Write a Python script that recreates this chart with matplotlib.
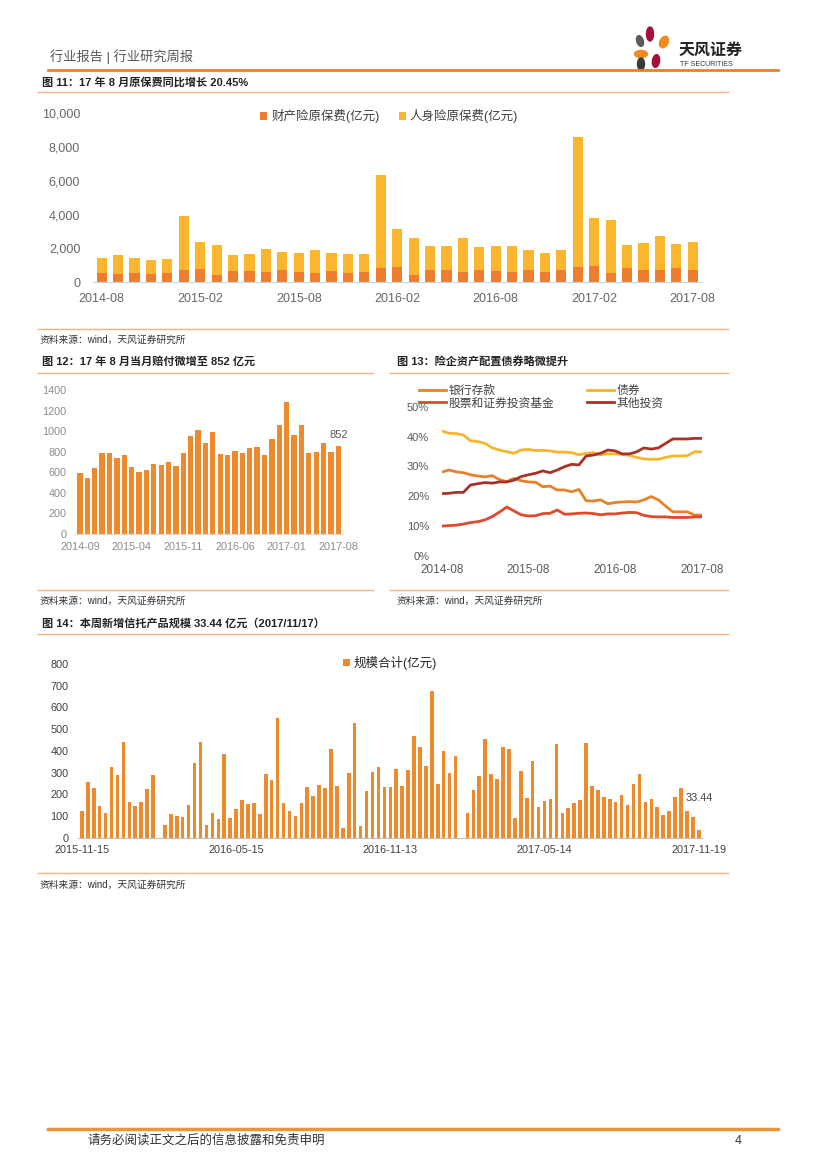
import matplotlib
matplotlib.use('Agg')
import matplotlib.pyplot as plt
from matplotlib.lines import Line2D
from matplotlib.patches import Ellipse
import numpy as np
import pandas as pd

plt.rcParams['font.family'] = ['Liberation Sans', 'Noto Sans CJK SC', 'DejaVu Sans']
plt.rcParams['axes.unicode_minus'] = False

# ---- data ----
# 图11 原保费 (亿元), 2014-08 .. 2017-08
prem_months = pd.date_range('2014-08-01', periods=37, freq='MS').strftime('%Y-%m').tolist()
prop_prem = [552, 513, 572, 513, 572, 730, 809, 434, 671, 671, 611, 730, 611, 552, 671, 552, 611, 848,
             907, 434, 730, 710, 611, 730, 671, 611, 710, 611, 730, 907, 966, 552, 848, 730, 730, 848, 730]
life_prem = [908, 1104, 868, 828, 789, 3215, 1558, 1775, 927, 1005, 1342, 1045, 1105, 1361, 1065, 1105,
             1065, 5483, 2229, 2209, 1400, 1420, 1993, 1380, 1499, 1519, 1223, 1125, 1183, 7673, 2821,
             3117, 1361, 1578, 2012, 1400, 1676]
prem_yticks = [0, 2000, 4000, 6000, 8000, 10000]
prem_ylabels = ['0', '2,000', '4,000', '6,000', '8,000', '10,000']

# 图12 当月赔付 (亿元), 2014-09 .. 2017-08
claim_months = pd.date_range('2014-09-01', periods=36, freq='MS').strftime('%Y-%m').tolist()
claims = [591, 539, 637, 786, 789, 737, 767, 646, 601, 620, 679, 666, 695, 659, 786, 948, 1010, 880,
          987, 780, 770, 805, 789, 838, 845, 770, 919, 1056, 1280, 958, 1059, 783, 799, 880, 793, 852]

# 图13 资产配置占比 (%), 2014-08 .. 2017-08
alloc_months = pd.date_range('2014-08-01', periods=37, freq='MS').strftime('%Y-%m').tolist()
bank_dep = [28.1, 28.8, 28.2, 27.9, 27.2, 26.8, 26.5, 26.9, 25.6, 24.9, 26.0, 25.2, 24.8, 24.7, 23.2,
            23.4, 22.1, 22.1, 21.5, 22.3, 18.5, 18.4, 18.8, 17.5, 17.9, 18.1, 18.2, 18.1, 18.8, 19.9,
            18.8, 16.7, 14.8, 14.8, 14.8, 13.7, 13.7]
bonds = [41.9, 41.1, 41.0, 40.5, 38.6, 38.3, 37.7, 36.2, 35.5, 34.9, 34.4, 35.5, 35.7, 35.3, 35.4,
         35.2, 34.8, 34.8, 34.6, 33.9, 34.4, 34.6, 33.9, 34.2, 34.2, 34.0, 33.7, 33.0, 32.5, 32.4,
         32.4, 33.0, 33.5, 33.5, 33.6, 34.9, 34.9]
stocks = [10.0, 10.2, 10.3, 10.7, 11.2, 11.5, 12.1, 13.2, 14.7, 16.4, 15.1, 13.8, 13.4, 13.5, 14.2,
          14.3, 15.4, 14.0, 14.1, 14.3, 14.4, 14.2, 13.8, 14.1, 14.1, 14.4, 14.6, 14.5, 13.6, 13.2,
          13.1, 13.1, 12.9, 12.9, 12.9, 13.1, 13.1]
others = [20.9, 21.0, 21.3, 21.3, 23.8, 24.2, 24.6, 24.4, 24.8, 24.8, 25.4, 26.6, 27.2, 27.7, 28.5,
          27.9, 28.8, 29.9, 30.7, 30.5, 33.5, 33.8, 34.4, 35.5, 35.2, 34.2, 34.2, 34.9, 36.2, 35.8,
          36.2, 37.7, 39.2, 39.2, 39.2, 39.4, 39.4]

# 图14 新增信托产品规模 (亿元), weekly
trust_labels = {0: '2015-11-15', 26: '2016-05-15', 52: '2016-11-13', 78: '2017-05-14', 104: '2017-11-19'}
trust = [122, 255, 227, 146, 114, 326, 287, 441, 166, 146, 166, 226, 290,
         0,
         57, 110, 101, 95, 149, 345, 443, 57, 115, 84, 387,
         92, 131, 172, 157, 158, 108, 292, 267, 550, 158, 124, 101, 161, 234, 191, 241, 229, 410,
         238, 46, 297, 530, 54, 214, 303, 324, 232,
         233, 316, 238, 312, 467, 418, 332, 676, 246, 399, 300, 375,
         0,
         112, 220, 283, 455, 292, 269, 416, 407, 91, 309, 183, 353, 143,
         168, 178, 433, 112, 138, 158, 174, 436, 238, 218, 187, 178, 166, 195, 152, 249, 292, 164,
         177, 143, 105, 124, 187, 229, 123, 94, 33.44]

# ---- page ----
W, H = 827, 1169
fig = plt.figure(figsize=(W / 100, H / 100), dpi=100)
fig.patch.set_facecolor('white')

ORANGE = '#ED7D31'
YELLOW = '#FBB62D'
LIGHT = '#F4B183'


def axes_px(x0, y0, x1, y1):
    return fig.add_axes([x0 / W, 1 - y1 / H, (x1 - x0) / W, (y1 - y0) / H])


def hline(x0, x1, y, color=LIGHT, lw=1.0):
    fig.add_artist(Line2D([x0 / W, x1 / W], [1 - y / H, 1 - y / H], transform=fig.transFigure,
                          color=color, lw=lw))


def text_px(x, y, s, **kw):
    kw.setdefault('va', 'center')
    fig.text(x / W, 1 - y / H, s, **kw)


# header
text_px(50, 57, '行业报告 | 行业研究周报', fontsize=9.5, color='#595959')
hline(48, 778, 70, color='#E8822A', lw=2)
for (cx, cy, w, h, ang, col) in [(650, 34, 7, 14, 0, '#A3123A'), (664, 42, 7, 14, -55, '#F08A1E'),
                                 (640, 41, 6, 12, 40, '#5a5a5a'), (641, 54, 13, 7, 0, '#F08A1E'),
                                 (641, 64, 7, 12, 0, '#3a3a3a'), (656, 61, 7, 13, -20, '#A3123A')]:
    fig.add_artist(Ellipse((cx / W, 1 - cy / H), w / W, h / H, angle=ang, color=col,
                           transform=fig.transFigure))
text_px(679, 50, '天风证券', fontsize=11.5, fontweight='bold', color='#222222')
text_px(680, 64, 'TF SECURITIES', fontsize=5, color='#333333')

# ---- 图11 ----
text_px(42, 82, '图 11：17 年 8 月原保费同比增长 20.45%', fontsize=8, fontweight='bold', color='#222222')
hline(38, 728, 92)
ax = axes_px(92.7, 113.3, 701.7, 282.3)
x = np.arange(len(prop_prem))
ax.bar(x, prop_prem, width=0.62, color=ORANGE, label='财产险原保费(亿元)')
ax.bar(x, life_prem, width=0.62, bottom=prop_prem, color=YELLOW, label='人身险原保费(亿元)')
ax.set_xlim(-0.55, 36.55)
ax.set_ylim(0, 10000)
ax.set_yticks(prem_yticks)
ax.set_yticklabels(prem_ylabels)
ax.set_xticks(x[::6])
ax.set_xticklabels(prem_months[::6])
for s in ['top', 'right', 'left']:
    ax.spines[s].set_visible(False)
ax.spines['bottom'].set_color('#BDD7EE')
ax.tick_params(length=0, labelsize=9, colors='#666666', pad=8)
ax.tick_params(axis='y', pad=9)
ax.legend(loc='upper center', bbox_to_anchor=(0.487, 1.09), ncol=2, frameon=False, fontsize=9,
          handlelength=0.55, handleheight=0.55, handletextpad=0.3, columnspacing=1.6, labelcolor='#404040')
ax.patch.set_alpha(0)

hline(38, 728, 329)
text_px(40, 340, '资料来源：wind，天风证券研究所', fontsize=7, color='#333333')

# ---- 图12 ----
text_px(42, 361, '图 12：17 年 8 月当月赔付微增至 852 亿元', fontsize=8, fontweight='bold', color='#222222')
hline(38, 373, 373)
ax = axes_px(74.8, 390, 343.5, 533.7)
x = np.arange(len(claims))
ax.bar(x, claims, width=0.72, color='#EE8A2E')
ax.set_xlim(-0.7, 35.7)
ax.set_ylim(0, 1400)
ax.set_yticks(range(0, 1401, 200))
ax.set_xticks(x[::7])
ax.set_xticklabels(claim_months[::7])
for s in ['top', 'right', 'left']:
    ax.spines[s].set_visible(False)
ax.spines['bottom'].set_color('#D9D9D9')
ax.tick_params(length=0, labelsize=7.8, colors='#8C8C8C', pad=6)
ax.tick_params(axis='y', pad=6)
ax.text(x[-1], claims[-1] + 60, '852', ha='center', va='bottom', fontsize=8, color='#595959')
ax.patch.set_alpha(0)

hline(38, 373, 590)
text_px(40, 601, '资料来源：wind，天风证券研究所', fontsize=7, color='#333333')

# ---- 图13 ----
text_px(397, 361, '图 13：险企资产配置债券略微提升', fontsize=8, fontweight='bold', color='#222222')
hline(390, 728, 373)
ax = axes_px(441.7, 406.7, 701.7, 556)
x = np.arange(len(bank_dep))
l1, = ax.plot(x, bank_dep, color='#E8822A', lw=2, label='银行存款')
l2, = ax.plot(x, bonds, color='#F7B52C', lw=2, label='债券')
l3, = ax.plot(x, stocks, color='#E0482A', lw=2, label='股票和证券投资基金')
l4, = ax.plot(x, others, color='#A83226', lw=2, label='其他投资')
ax.set_xlim(0, 36)
ax.set_ylim(0, 50)
ax.set_yticks(range(0, 51, 10))
ax.set_yticklabels([f'{v}%' for v in range(0, 51, 10)])
ax.set_xticks(x[::12])
ax.set_xticklabels(alloc_months[::12])
for s in ax.spines.values():
    s.set_visible(False)
ax.tick_params(length=0, labelsize=8.5, colors='#595959', pad=6)
ax.tick_params(axis='y', pad=9, labelsize=8)
ax.legend(handles=[l1, l3, l2, l4], ncol=2, loc='upper left', frameon=False, fontsize=8.5,
          bbox_to_anchor=(419 / W, 1 - 385 / H), bbox_transform=fig.transFigure,
          borderaxespad=0, borderpad=0, handlelength=2.3, handletextpad=0.2, labelspacing=0.05,
          columnspacing=2.8, labelcolor='#404040')
ax.patch.set_alpha(0)

hline(390, 728, 590)
text_px(397, 601, '资料来源：wind，天风证券研究所', fontsize=7, color='#333333')

# ---- 图14 ----
text_px(42, 623, '图 14：本周新增信托产品规模 33.44 亿元（2017/11/17）', fontsize=8, fontweight='bold',
        color='#222222')
hline(38, 728, 634)
ax = axes_px(78.3, 664, 701.7, 837.7)
x = np.arange(len(trust))
ax.bar(x, trust, width=0.6, color='#EE8A2E', label='规模合计(亿元)')
ax.set_xlim(-0.6, 104.5)
ax.set_ylim(0, 800)
ax.set_yticks(range(0, 801, 100))
ax.set_xticks(list(trust_labels.keys()))
ax.set_xticklabels(list(trust_labels.values()))
for s in ['top', 'right', 'left']:
    ax.spines[s].set_visible(False)
ax.spines['bottom'].set_color('#BFBFBF')
ax.tick_params(length=0, labelsize=7.8, colors='#404040', pad=5)
ax.tick_params(axis='y', pad=7)
ax.text(x[-1], 183, '33.44', ha='center', va='center', fontsize=7.8, color='#404040')
ax.legend(loc='upper center', bbox_to_anchor=(0.5, 1.11), frameon=False, fontsize=9,
          handlelength=0.55, handleheight=0.55, handletextpad=0.3, labelcolor='#262626')
ax.patch.set_alpha(0)

hline(38, 728, 873)
text_px(40, 885, '资料来源：wind，天风证券研究所', fontsize=7, color='#333333')

# footer
hline(48, 778, 1129, color='#E8963A', lw=2.5)
text_px(88, 1141, '请务必阅读正文之后的信息披露和免责申明', fontsize=9, color='#333333')
text_px(735, 1141, '4', fontsize=9, color='#333333')

fig.savefig('out.png', dpi=100)
